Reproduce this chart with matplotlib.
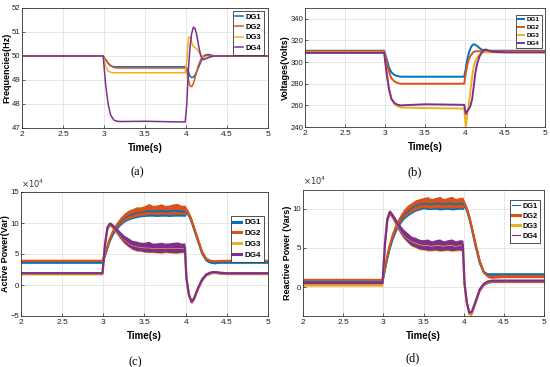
import numpy as np
import matplotlib
matplotlib.use('Agg')
import matplotlib.pyplot as plt

plt.rcParams['font.family'] = ['Liberation Sans', 'DejaVu Sans']

names = ['DG1', 'DG2', 'DG3', 'DG4']
colors = ['#0072BD', '#D95319', '#EDB120', '#7E2F8E']

# ---- top row: frequency and voltage (key points) ----
t_top = [2.0, 2.99, 3.02, 3.05, 3.08, 3.12, 3.16, 3.2, 3.5, 3.99, 4.01, 4.03, 4.05,
         4.07, 4.09, 4.11, 4.13, 4.15, 4.18, 4.21, 4.24, 4.27, 4.3, 4.35, 4.5, 5.0]

f_dg1 = [50, 50, 49.85, 49.7, 49.6, 49.55, 49.55, 49.55, 49.55, 49.55, 49.5, 49.35, 49.15,
         49.1, 49.12, 49.2, 49.35, 49.5, 49.75, 49.95, 50.05, 50.06, 50.05, 50.0, 50.0, 50.0]
f_dg2 = [50, 50, 49.85, 49.7, 49.6, 49.52, 49.5, 49.5, 49.5, 49.5, 49.4, 49.0, 48.75,
         48.72, 48.85, 49.1, 49.35, 49.6, 49.85, 50.0, 50.02, 50.02, 50.0, 50.0, 50.0, 50.0]
f_dg3 = [50, 50, 49.55, 49.38, 49.32, 49.3, 49.3, 49.3, 49.3, 49.3, 49.8, 50.75, 50.8,
         50.55, 50.4, 50.35, 50.3, 50.2, 50.05, 49.95, 49.9, 49.92, 49.97, 50.0, 50.0, 50.0]
f_dg4 = [50, 50, 48.8, 48.0, 47.55, 47.33, 47.28, 47.27, 47.28, 47.25, 48.0, 49.5, 50.4,
         50.95, 51.2, 51.15, 50.9, 50.5, 50.0, 49.85, 49.88, 49.93, 49.97, 50.0, 50.0, 50.0]

v_dg1 = [310.5, 310.5, 303, 295, 290.5, 288, 287, 286.5, 286.5, 286.5, 294, 303, 309,
         313, 315.5, 316.5, 316, 315, 313, 311.5, 310.5, 310.5, 310.5, 310.5, 310.5, 310.5]
v_dg2 = [310, 310, 300, 291, 285, 282, 280.5, 280, 280, 280, 290, 298, 303,
         306, 308, 309.5, 310, 310, 310, 310, 310, 310, 310, 310, 310, 310]
v_dg3 = [309, 309, 290, 275, 266, 261, 259, 258, 257.5, 257, 240, 252, 262,
         275, 287, 296, 301, 304, 307, 308.5, 309, 309, 309, 309, 309, 309]
v_dg4 = [308.5, 308.5, 290, 275, 266, 262, 260.5, 260, 261, 260.5, 252, 255, 257,
         260, 266, 278, 290, 298, 305, 309, 311.5, 311.5, 310.5, 309.5, 309, 309]

# ---- bottom row: active / reactive power in units of 1e4 ----
t_pw = [2.0, 2.99, 3.02, 3.05, 3.08, 3.12, 3.16, 3.2, 3.25, 3.3, 3.35, 3.4, 3.45, 3.5,
        3.55, 3.6, 3.65, 3.7, 3.75, 3.8, 3.85, 3.9, 3.95, 3.99, 4.01, 4.04, 4.07, 4.1,
        4.15, 4.2, 4.25, 4.3, 4.35, 4.4, 4.5, 5.0]

p_dg1 = [3.7, 3.7, 4.8, 6.1, 7.3, 8.5, 9.4, 10.1, 10.8, 11.2, 11.5, 11.7, 11.8, 11.9,
         12.0, 11.9, 11.9, 12.0, 11.9, 11.9, 12.0, 12.0, 11.9, 11.9, 11.8, 11.2, 10.3, 9.1,
         7.1, 5.1, 4.0, 3.7, 3.6, 3.7, 3.7, 3.7]
p_dg2 = [3.9, 3.9, 5.0, 6.3, 7.5, 8.7, 9.6, 10.3, 11.0, 11.4, 11.7, 11.9, 12.0, 12.1,
         12.3, 12.2, 12.2, 12.3, 12.2, 12.2, 12.3, 12.3, 12.2, 12.2, 12.0, 11.4, 10.5, 9.3,
         7.3, 5.3, 4.2, 3.9, 3.8, 3.85, 3.9, 3.9]
p_dg3 = [1.8, 1.8, 6.4, 9.2, 9.8, 9.3, 8.7, 8.1, 7.4, 6.9, 6.5, 6.3, 6.2, 6.1,
         6.1, 6.0, 6.0, 6.0, 6.0, 6.0, 6.0, 6.0, 6.0, 6.0, 0.9, -1.7, -2.75, -2.25,
         -0.55, 0.85, 1.65, 1.95, 2.05, 1.95, 1.85, 1.85]
p_dg4 = [1.9, 1.9, 6.5, 9.3, 9.9, 9.4, 8.8, 8.2, 7.5, 7.0, 6.6, 6.4, 6.3, 6.2,
         6.2, 6.1, 6.1, 6.1, 6.1, 6.1, 6.1, 6.1, 6.1, 6.1, 1.0, -1.6, -2.7, -2.2,
         -0.5, 0.9, 1.7, 2.0, 2.1, 2.0, 1.9, 1.9]
# ripple half-widths of the thick bands (above / below the mid line)
p_rip_hi = [0.2, 0.2, 0.25, 0.3, 0.3, 0.4, 0.45, 0.5, 0.55, 0.65, 0.6, 0.7, 0.6, 0.7,
            0.85, 0.65, 0.7, 0.8, 0.65, 0.7, 0.8, 0.85, 0.65, 0.7, 0.5, 0.4, 0.35, 0.3,
            0.3, 0.3, 0.25, 0.2, 0.2, 0.2, 0.2, 0.2]
p_rip_lo = [0.2, 0.2, 0.25, 0.3, 0.3, 0.4, 0.5, 0.6, 0.7, 0.75, 0.8, 0.85, 0.8, 0.85,
            0.9, 0.8, 0.85, 0.9, 0.8, 0.85, 0.9, 0.9, 0.8, 0.85, 0.3, 0.25, 0.25, 0.25,
            0.25, 0.25, 0.2, 0.2, 0.2, 0.2, 0.2, 0.2]

q_dg1 = [0.7, 0.7, 2.3, 3.8, 5.1, 6.5, 7.6, 8.4, 9.2, 9.7, 10.1, 10.4, 10.6, 10.7,
         10.7, 10.6, 10.7, 10.7, 10.6, 10.7, 10.7, 10.6, 10.7, 10.7, 10.5, 9.8, 8.8, 7.5,
         5.2, 3.1, 1.9, 1.6, 1.6, 1.6, 1.6, 1.6]
q_dg2 = [0.9, 0.9, 2.5, 4.0, 5.3, 6.7, 7.8, 8.6, 9.4, 9.9, 10.3, 10.6, 10.8, 10.9,
         10.9, 10.8, 10.9, 10.95, 10.8, 10.9, 10.95, 10.8, 10.9, 10.9, 10.7, 10.0, 9.0, 7.7,
         5.4, 3.3, 1.9, 1.4, 1.3, 1.35, 1.4, 1.4]
q_dg3 = [0.3, 0.3, 5.4, 8.6, 9.55, 8.9, 8.2, 7.5, 6.8, 6.3, 5.9, 5.7, 5.5, 5.4,
         5.4, 5.3, 5.4, 5.4, 5.3, 5.4, 5.4, 5.3, 5.4, 5.35, 0.4, -2.1, -3.45, -3.35,
         -1.9, -0.4, 0.35, 0.65, 0.75, 0.75, 0.75, 0.75]
q_dg4 = [0.5, 0.5, 5.5, 8.7, 9.6, 9.0, 8.3, 7.6, 6.9, 6.4, 6.0, 5.8, 5.6, 5.5,
         5.5, 5.4, 5.5, 5.5, 5.4, 5.5, 5.5, 5.4, 5.5, 5.4, 0.5, -2.0, -3.3, -3.2,
         -1.8, -0.3, 0.4, 0.7, 0.8, 0.8, 0.8, 0.8]
q_rip_hi = [0.2, 0.2, 0.25, 0.3, 0.3, 0.35, 0.4, 0.45, 0.5, 0.55, 0.5, 0.55, 0.5, 0.55,
            0.65, 0.5, 0.55, 0.65, 0.5, 0.55, 0.65, 0.5, 0.55, 0.6, 0.3, 0.25, 0.25, 0.25,
            0.25, 0.25, 0.2, 0.2, 0.2, 0.2, 0.2, 0.2]
q_rip_lo = [0.2, 0.2, 0.25, 0.3, 0.35, 0.4, 0.5, 0.55, 0.6, 0.65, 0.7, 0.7, 0.75, 0.7,
            0.8, 0.7, 0.75, 0.85, 0.7, 0.75, 0.85, 0.7, 0.75, 0.8, 0.3, 0.25, 0.25, 0.25,
            0.25, 0.25, 0.2, 0.2, 0.2, 0.2, 0.2, 0.2]

x_ticks = [2, 2.5, 3, 3.5, 4, 4.5, 5]

fig = plt.figure(figsize=(5.5, 3.67), dpi=100)

def style(ax, ylim, yticks, ylabel, ylab_x):
    ax.set_xlim(2, 5)
    ax.set_ylim(*ylim)
    ax.set_xticks(x_ticks)
    ax.set_xticklabels(['2', '2.5', '3', '3.5', '4', '4.5', '5'])
    ax.set_yticks(yticks)
    ax.grid(True, color='#dedede', lw=0.5)
    ax.set_axisbelow(True)
    ax.tick_params(direction='in', length=2, width=0.5, labelsize=6, pad=2,
                   colors='#222222')
    ax.tick_params(axis='y', pad=1.2, labelsize=5.6)
    for s in ax.spines.values():
        s.set_linewidth(0.6)
        s.set_color('#333333')
    ax.set_ylabel(ylabel, fontsize=6.5, fontweight='bold', va='center')
    ax.yaxis.set_label_coords(ylab_x, 0.5)
    ax.set_xlabel('Time(s)', fontsize=7, fontweight='bold', labelpad=4)

def legend(ax, anchor, fs, lw_list=None):
    leg = ax.legend(loc='upper right', bbox_to_anchor=anchor,
                    handlelength=1.0, handletextpad=0.4, labelspacing=0.4,
                    borderpad=0.35, fancybox=False, framealpha=1,
                    prop={'weight': 'bold', 'size': fs})
    leg.get_frame().set_edgecolor('#333333')
    leg.get_frame().set_linewidth(0.6)
    if lw_list is not None:
        for h, w in zip(leg.get_lines(), lw_list):
            h.set_linewidth(w)

# (a) frequency
ax_a = fig.add_axes([22/550, 239/367, 246/550, 120/367])
for y, n, c in zip([f_dg1, f_dg2, f_dg3, f_dg4], names, colors):
    ax_a.plot(t_top, y, color=c, lw=1.1, label=n)
style(ax_a, (47, 52), [47, 48, 49, 50, 51, 52], 'Frequencies(Hz)', (6.5 - 22)/246)
legend(ax_a, (1.0, 1.01), 5.5)

# (b) voltage
ax_b = fig.add_axes([305/550, 240/367, 240/550, 119/367])
for y, n, c in zip([v_dg1, v_dg2, v_dg3, v_dg4], names, colors):
    ax_b.plot(t_top, y, color=c, lw=1.4, label=n)
style(ax_b, (240, 350), [240, 260, 280, 300, 320, 340], 'Voltages(Volts)', (285 - 305)/240)
legend(ax_b, (1.0, 0.97), 4.5)

# (c) active power
ax_c = fig.add_axes([21/550, 51/367, 247/550, 124/367])
for y, n, c in zip([p_dg1, p_dg2, p_dg3, p_dg4], names, colors):
    y = np.array(y)
    ax_c.fill_between(t_pw, y - np.array(p_rip_lo), y + np.array(p_rip_hi),
                      color=c, lw=0)
    ax_c.plot(t_pw, y, color=c, lw=1.6, label=n)
style(ax_c, (-5, 15), [-5, 0, 5, 10, 15], 'Active Power(Var)', (5.5 - 21)/247)
ax_c.text(0.0, 1.02, r'$\times10^4$', transform=ax_c.transAxes, fontsize=6,
          color='#333333', va='bottom')
legend(ax_c, (1.0, 0.84), 5.8, [2.2, 2.2, 2.2, 2.2])

# (d) reactive power
ax_d = fig.add_axes([303/550, 51/367, 241/550, 126/367])
for y, n, c in zip([q_dg1, q_dg2, q_dg3, q_dg4], names, colors):
    y = np.array(y)
    ax_d.fill_between(t_pw, y - np.array(q_rip_lo), y + np.array(q_rip_hi),
                      color=c, lw=0)
    ax_d.plot(t_pw, y, color=c, lw=1.6, label=n)
style(ax_d, (-3.7, 12.4), [0, 5, 10], 'Reactive Power (Vars)', (288 - 303)/241)
ax_d.set_yticklabels(['0', '5', '10'])
ax_d.text(0.0, 1.02, r'$\times10^4$', transform=ax_d.transAxes, fontsize=6,
          color='#333333', va='bottom')
legend(ax_d, (1.0, 0.95), 5.3, [0.8, 2.2, 2.2, 0.8])

# captions
for x, y, s in [(137, 172, '(a)'), (415, 172, '(b)'), (135, 362, '(c)'), (413, 358, '(d)')]:
    fig.text(x/550, 1 - y/367, s, ha='center', va='center', fontsize=9,
             family='Liberation Serif')

fig.savefig('out.png', dpi=100)
